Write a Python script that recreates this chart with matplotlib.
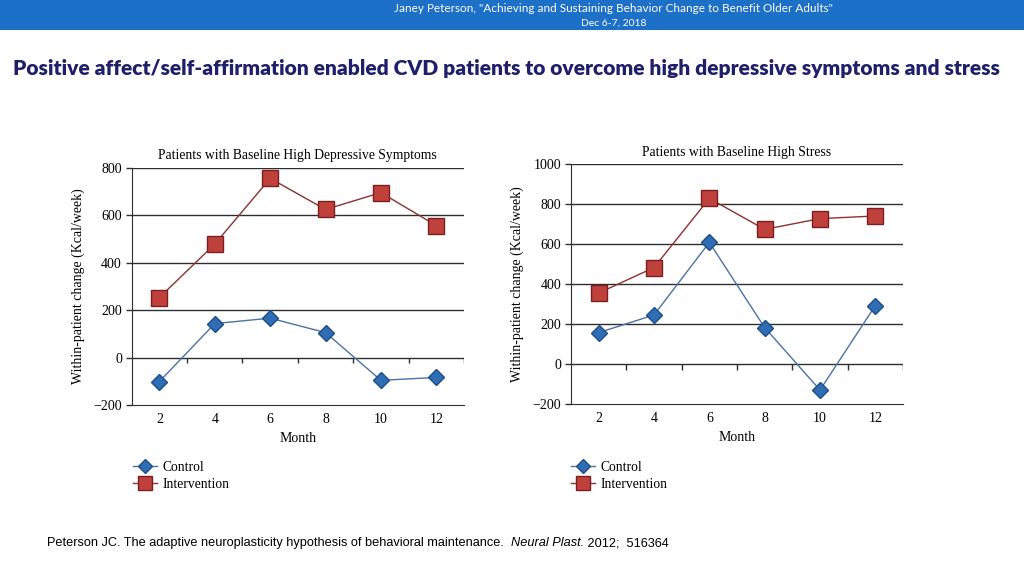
import matplotlib
matplotlib.use("Agg")
import matplotlib.pyplot as plt
from matplotlib import font_manager
from matplotlib.lines import Line2D

months = ["2", "4", "6", "8", "10", "12"]
dep_control = [-101, 143, 166, 105, -96, -84]
dep_intervention = [253, 478, 755, 624, 695, 556]
stress_control = [157, 245, 608, 182, -130, 292]
stress_intervention = [355, 482, 828, 673, 727, 740]
dep_yticks = [-200, 0, 200, 400, 600, 800]
stress_yticks = [-200, 0, 200, 400, 600, 800, 1000]

names = {f.name for f in font_manager.fontManager.ttflist}
head_font = "Lato" if "Lato" in names else "DejaVu Sans"
serif = "Liberation Serif" if "Liberation Serif" in names else "DejaVu Serif"
sans = "Liberation Sans" if "Liberation Sans" in names else "DejaVu Sans"

W, H = 1024, 576
fig = plt.figure(figsize=(W / 100, H / 100), dpi=100)
fig.patch.set_facecolor("white")
fig.canvas.draw()
R = fig.canvas.get_renderer()


def fit_text(x, y, s, target_w, size, **kw):
    t = fig.text(x, y, s, fontsize=size, **kw)
    w = t.get_window_extent(R).width
    t.set_fontsize(size * target_w / w)
    return t


# header band
band = fig.add_axes([0, 1 - 30 / H, 1, 30 / H])
band.set_axis_off()
band.add_patch(plt.Rectangle((0, 0), 1, 1, color="#1C70C8", transform=band.transAxes))
fit_text(614 / W, 1 - 9 / H, 'Janey Peterson, "Achieving and Sustaining Behavior Change to Benefit Older Adults"',
         434, 7.5, ha="center", va="center", color="white", family=[head_font, "DejaVu Sans"])
fit_text(614 / W, 1 - 23 / H, "Dec 6-7, 2018", 65, 7.5, ha="center", va="center", color="white",
         family=[head_font, "DejaVu Sans"])

fit_text(506 / W, 1 - 68 / H,
         "Positive affect/self-affirmation enabled CVD patients to overcome high depressive symptoms and stress",
         990, 15, ha="center", va="center", color="#1F1F6B", fontweight="heavy",
         family=[head_font, "DejaVu Sans"])

C_BLUE = "#2F6DB5"
C_BLUE_E = "#1F4E85"
C_BLUE_L = "#4A72A6"
C_RED = "#C0403C"
C_RED_E = "#7A1F1F"
C_RED_L = "#8E3030"
C_GRID = "#2E2E2E"


def panel(rect, title, control, intervention, yticks, tick_len):
    ax = fig.add_axes(rect)
    x = list(range(len(months)))
    ax.set_xlim(-0.5, len(months) - 0.5)
    ax.set_ylim(yticks[0], yticks[-1])
    for yv in yticks[1:]:
        ax.axhline(yv, color=C_GRID, lw=1.0, zorder=1)
    for b in range(1, len(months) + 1):
        ax.vlines(b - 0.5, -tick_len, 0, color=C_GRID, lw=1.0, zorder=1)
    ax.plot(x, intervention, color=C_RED_L, lw=1.0, marker="s", ms=11,
            mfc=C_RED, mec=C_RED_E, mew=1.0, zorder=3)
    ax.plot(x, control, color=C_BLUE_L, lw=1.0, marker="D", ms=8,
            mfc=C_BLUE, mec=C_BLUE_E, mew=1.0, zorder=3)
    ax.set_xticks(x)
    ax.set_xticklabels(months, family=serif, fontsize=10)
    ax.tick_params(axis="x", length=0, pad=6)
    ax.set_yticks(yticks)
    ax.set_yticklabels(["\u2212200" if v == -200 else str(v) for v in yticks], family=serif, fontsize=10)
    ax.tick_params(axis="y", length=4, width=1.0, color=C_GRID, pad=3)
    for s in ["top", "right"]:
        ax.spines[s].set_visible(False)
    ax.spines["left"].set_color(C_GRID)
    ax.spines["bottom"].set_color(C_GRID)
    ax.set_title(title, family=serif, fontsize=9.8, pad=6)
    ax.set_xlabel("Month", family=serif, fontsize=10, labelpad=4)
    ax.set_ylabel("Within-patient change (Kcal/week)", family=serif, fontsize=10, labelpad=6)
    return ax


ax1 = panel([131.7 / W, (H - 405) / H, (464 - 131.7) / W, (405 - 167.7) / H],
            "Patients with Baseline High Depressive Symptoms", dep_control, dep_intervention, dep_yticks, 25)
ax2 = panel([571 / W, (H - 404) / H, (903 - 571) / W, (404 - 164) / H],
            "Patients with Baseline High Stress", stress_control, stress_intervention, stress_yticks, 30)

handles = [Line2D([], [], color=C_BLUE_L, lw=1.0, marker="D", ms=7.5, mfc=C_BLUE, mec=C_BLUE_E),
           Line2D([], [], color=C_RED_L, lw=1.0, marker="s", ms=9.5, mfc=C_RED, mec=C_RED_E)]
for lx in (133, 571):
    fig.legend(handles, ["Control", "Intervention"], loc="upper left",
               bbox_to_anchor=(lx / W, 1 - 461 / H), frameon=False,
               prop={"family": serif, "size": 9.8}, handlelength=1.75, handletextpad=0.45,
               labelspacing=0.3, borderaxespad=0, borderpad=0)

fs = 9.2
yf = 1 - 543 / H
t1 = fig.text(47 / W, yf, "Peterson JC. The adaptive neuroplasticity hypothesis of behavioral maintenance.  ",
              ha="left", va="center", fontsize=fs, family=sans)
bb = t1.get_window_extent(R)
t2 = fig.text(bb.x1 / W, yf, "Neural Plast.", ha="left", va="center", fontsize=fs, family=sans, style="italic")
bb2 = t2.get_window_extent(R)
fig.text(bb2.x1 / W, yf, " 2012;  516364", ha="left", va="center", fontsize=fs, family=sans)

fig.savefig("out.png", dpi=100)
